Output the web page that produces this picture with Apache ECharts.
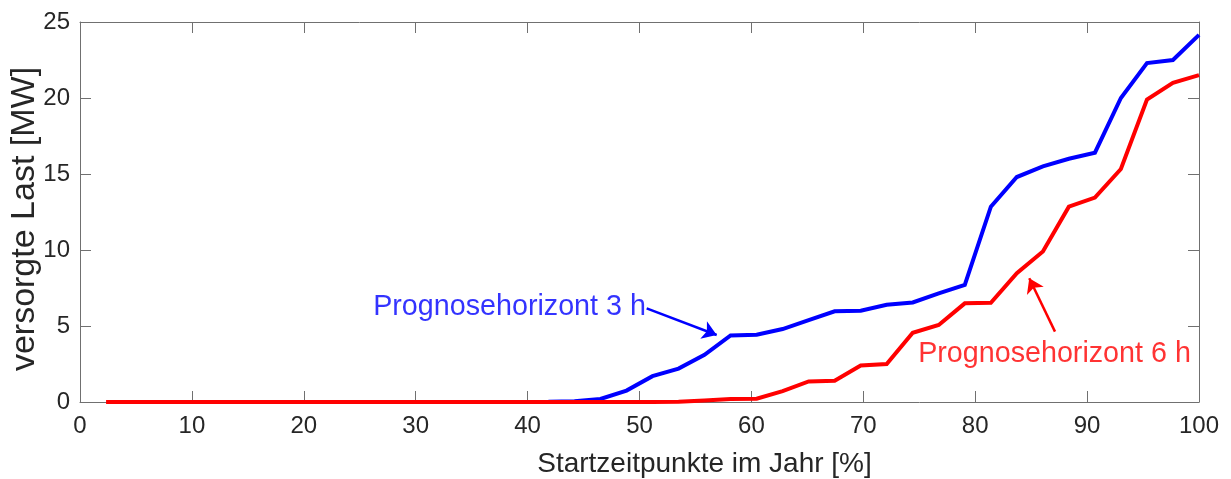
<!DOCTYPE html>
<html>
<head>
<meta charset="utf-8">
<script src="https://cdn.jsdelivr.net/npm/echarts@6/dist/echarts.min.js"></script>
<style>
  html, body { margin: 0; padding: 0; background: #fff; }
  #chart { width: 1231px; height: 479px; }
</style>
</head>
<body>
<div id="chart"></div>
<script>
// Start times across the year [%]
const startTimes = [2.33, 4.65, 6.98, 9.30, 11.63, 13.95, 16.28, 18.60, 20.93, 23.26,
  25.58, 27.91, 30.23, 32.56, 34.88, 37.21, 39.53, 41.86, 44.19, 46.51,
  48.84, 51.16, 53.49, 55.81, 58.14, 60.47, 62.79, 65.12, 67.44, 69.77,
  72.09, 74.42, 76.74, 79.07, 81.40, 83.72, 86.05, 88.37, 90.70, 93.02,
  95.35, 97.67, 100];

// Supplied load [MW], forecast horizon 3 h (no values before ~42 %)
const load3h = [null, null, null, null, null, null, null, null, null, null,
  null, null, null, null, null, null, null, 0.02, 0.05, 0.2,
  0.75, 1.7, 2.2, 3.1, 4.38, 4.42, 4.8, 5.38, 5.97, 6.0,
  6.4, 6.55, 7.15, 7.7, 12.85, 14.8, 15.5, 16.0, 16.4, 20.0,
  22.3, 22.5, 24.15];

// Supplied load [MW], forecast horizon 6 h
const load6h = [0, 0, 0, 0, 0, 0, 0, 0, 0, 0,
  0, 0, 0, 0, 0, 0, 0, 0, 0, 0,
  0, 0, 0.02, 0.1, 0.2, 0.22, 0.72, 1.35, 1.4, 2.4,
  2.5, 4.55, 5.07, 6.49, 6.53, 8.47, 9.9, 12.85, 13.45, 15.33,
  19.9, 21.0, 21.5];

const xTicks = [0, 100, 10];   // min, max, step
const yTicks = [0, 25, 5];

const seriesNames = ['Prognosehorizont 3 h', 'Prognosehorizont 6 h'];
const seriesColors = ['#0000ff', '#ff0000'];

// Callouts in data coordinates: text anchor, arrow tail, arrow tip
const callouts = [
  { name: seriesNames[0], color: seriesColors[0], at: [26.2, 6.23], from: [50.64, 6.16], to: [56.9, 4.41] },
  { name: seriesNames[1], color: seriesColors[1], at: [74.9, 3.16], from: [87.13, 4.63], to: [84.83, 8.14] }
];

const FONT = '"Liberation Sans", Arial, Helvetica, sans-serif';
const TEXT = '#262626';
const AXIS = '#707070';

const pairs = (ys) => startTimes.map((x, i) => [x, ys[i]]);

function baseAxis(min, max, step, extra) {
  return Object.assign({
    type: 'value', min: min, max: max, interval: step,
    axisLine: { show: true, onZero: false, lineStyle: { color: AXIS, width: 1 } },
    axisTick: { show: true, inside: true, length: 11, lineStyle: { color: AXIS, width: 1 } },
    splitLine: { show: false },
    axisLabel: { show: false }
  }, extra);
}

const chart = echarts.init(document.getElementById('chart'), null, { renderer: 'canvas' });

const series = [
  {
    name: seriesNames[0], type: 'line', data: pairs(load3h),
    showSymbol: false, connectNulls: false, z: 3,
    lineStyle: { color: seriesColors[0], width: 4, join: 'miter' },
    itemStyle: { color: seriesColors[0] }
  },
  {
    name: seriesNames[1], type: 'line', data: pairs(load6h),
    showSymbol: false, z: 4,
    lineStyle: { color: seriesColors[1], width: 4, join: 'miter' },
    itemStyle: { color: seriesColors[1] }
  }
];

callouts.forEach((c) => {
  series.push({
    type: 'scatter', symbolSize: 0, silent: true, z: 5,
    data: [c.at],
    label: {
      show: true, position: 'right', distance: 0,
      formatter: c.name, color: c.color,
      fontFamily: FONT, fontSize: 28.7
    },
    markLine: {
      silent: true, animation: false,
      symbol: ['none', 'arrow'], symbolSize: 14,
      label: { show: false },
      itemStyle: { color: c.color },
      lineStyle: { color: c.color, width: 2.5, type: 'solid' },
      emphasis: { disabled: true },
      data: [[{ coord: c.from }, { coord: c.to }]]
    }
  });
});

chart.setOption({
  animation: false,
  backgroundColor: '#ffffff',
  grid: { left: 80, right: 32, top: 22, bottom: 77, containLabel: false, outerBoundsMode: 'none' },
  xAxis: [
    baseAxis(xTicks[0], xTicks[1], xTicks[2], {
      position: 'bottom',
      name: 'Startzeitpunkte im Jahr [%]', nameLocation: 'middle', nameGap: 48,
      nameMoveOverlap: false,
      nameTextStyle: { fontFamily: FONT, fontSize: 28, color: TEXT, padding: [0, 0, 0, 130] },
      axisLabel: { show: true, margin: 12, fontFamily: FONT, fontSize: 24, color: TEXT,
        showMinLabel: true, showMaxLabel: true, hideOverlap: false }
    }),
    baseAxis(xTicks[0], xTicks[1], xTicks[2], { position: 'top' })
  ],
  yAxis: [
    baseAxis(yTicks[0], yTicks[1], yTicks[2], {
      position: 'left',
      name: 'versorgte Last [MW]', nameLocation: 'middle', nameGap: 38, nameRotate: 90,
      nameMoveOverlap: false,
      nameTextStyle: { fontFamily: FONT, fontSize: 34, color: TEXT, padding: [0, 14, 0, 0] },
      axisLabel: { show: true, margin: 10, fontFamily: FONT, fontSize: 24, color: TEXT,
        showMinLabel: true, showMaxLabel: true, hideOverlap: false }
    }),
    baseAxis(yTicks[0], yTicks[1], yTicks[2], { position: 'right' })
  ],
  series: series
});
</script>
</body>
</html>
